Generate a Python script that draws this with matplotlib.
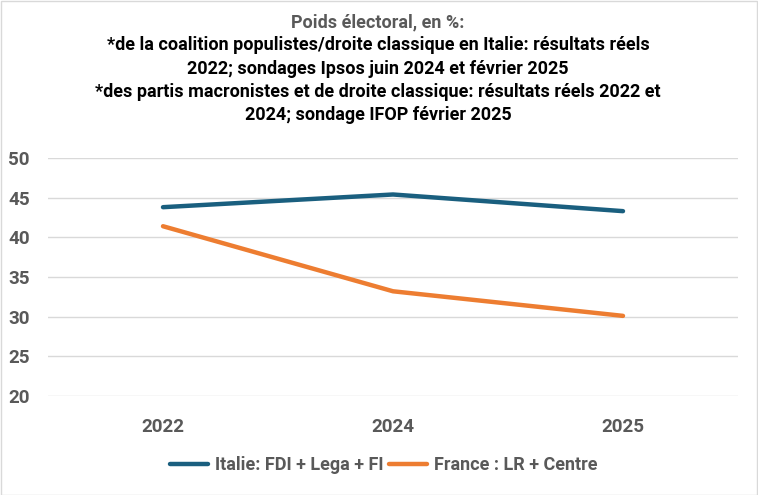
import matplotlib
matplotlib.use('Agg')
import matplotlib.pyplot as plt
from matplotlib.patches import Rectangle

# data
years = ['2022', '2024', '2025']
italie = [43.8, 45.4, 43.3]
france = [41.4, 33.2, 30.1]
yticks = [20, 25, 30, 35, 40, 45, 50]

title_lines = [
    "Poids électoral, en %:",
    "*de la coalition populistes/droite classique en Italie: résultats réels",
    "2022; sondages Ipsos juin 2024 et février 2025",
    "*des partis macronistes et de droite classique: résultats réels 2022 et",
    "2024; sondage IFOP février 2025",
]

plt.rcParams['font.family'] = ['Roboto', 'DejaVu Sans']
grey = '#595959'

W, H = 758, 495
fig = plt.figure(figsize=(W / 100, H / 100), dpi=100)
fig.patches.append(Rectangle((0.5 / W, 0.5 / H), 1 - 1.5 / W, 1 - 1.5 / H,
                             transform=fig.transFigure, fill=False,
                             edgecolor='#d9d9d9', linewidth=1))

ax = fig.add_axes([48 / W, 1 - 396 / H, 690 / W, 238 / H])
x = range(len(years))
ax.plot(x, italie, color='#1a5f7f', linewidth=3.2, solid_capstyle='round',
        label='Italie: FDI + Lega + FI')
ax.plot(x, france, color='#ed7d31', linewidth=3.2, solid_capstyle='round',
        label='France : LR + Centre')

ax.set_xlim(-0.5, 2.5)
ax.set_ylim(20, 50)
ax.set_yticks(yticks)
ax.set_xticks(list(x))
ax.set_xticklabels(years)
ax.grid(axis='y', color='#d9d9d9', linewidth=1)
ax.set_axisbelow(True)
for s in ax.spines.values():
    s.set_visible(False)
ax.tick_params(length=0, labelsize=13.5, labelcolor=grey)
for lab in ax.get_xticklabels() + ax.get_yticklabels():
    lab.set_fontweight('bold')
ax.tick_params(axis='y', pad=13)
ax.tick_params(axis='x', pad=16)

# title
ys = [22, 45, 68.5, 92, 115]
for i, (t, yy) in enumerate(zip(title_lines, ys)):
    fig.text(378 / W, 1 - yy / H, t, ha='center', va='center',
             fontsize=13, fontweight='bold',
             color=grey if i == 0 else 'black')

leg = fig.legend(loc='center', bbox_to_anchor=(384 / W, 1 - 465 / H), ncol=2,
                 frameon=False, fontsize=13, handlelength=2.1,
                 columnspacing=0.3, handletextpad=0.4)
for t in leg.get_texts():
    t.set_color(grey)
    t.set_fontweight('bold')

fig.savefig('out.png', dpi=100)
